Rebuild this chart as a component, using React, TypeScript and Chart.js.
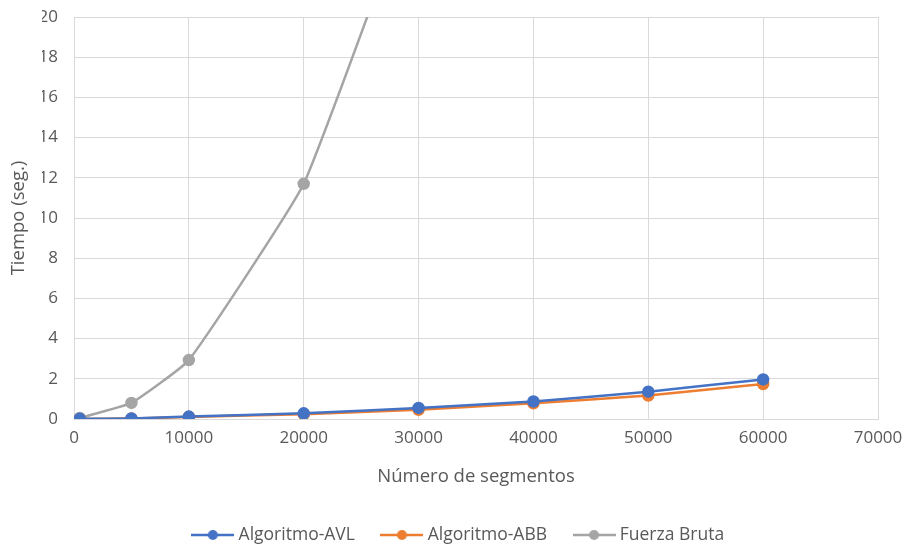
import React, { useEffect, useRef } from "react";
import { Chart, registerables } from "chart.js";

Chart.register(...registerables);

const xValues = [500, 5000, 10000, 20000, 30000, 40000, 50000, 60000];
const avlValues = [0.01, 0.03, 0.12, 0.28, 0.55, 0.87, 1.36, 1.97];
const abbValues = [0.0, 0.02, 0.1, 0.24, 0.46, 0.78, 1.17, 1.74];
const bruteX = [500, 5000, 10000, 20000, 30000];
const bruteValues = [0.05, 0.8, 2.93, 11.7, 27];

const seriesNames = ["Algoritmo-AVL", "Algoritmo-ABB", "Fuerza Bruta"];
const seriesColors = ["#4472C4", "#ED7D31", "#A5A5A5"];

const xTitle = "Número de segmentos";
const yTitle = "Tiempo (seg.)";

function legendImage(color: string) {
  const c = document.createElement("canvas");
  c.width = 43;
  c.height = 12;
  const ctx = c.getContext("2d")!;
  ctx.strokeStyle = color;
  ctx.lineWidth = 2.5;
  ctx.beginPath();
  ctx.moveTo(0, 6);
  ctx.lineTo(43, 6);
  ctx.stroke();
  ctx.fillStyle = color;
  ctx.beginPath();
  ctx.arc(21.5, 6, 5, 0, Math.PI * 2);
  ctx.fill();
  return c;
}

export default function App() {
  const ref = useRef<HTMLCanvasElement>(null);
  useEffect(() => {
    const font = "'Open Sans', 'Noto Sans', sans-serif";
    const images = seriesColors.map(legendImage);
    const makeData = (xs: number[], ys: number[]) => xs.map((x, i) => ({ x, y: ys[i] }));
    const chart = new Chart(ref.current!, {
      type: "line",
      data: {
        datasets: [
          { label: seriesNames[0], data: makeData(xValues, avlValues) },
          { label: seriesNames[1], data: makeData(xValues, abbValues) },
          { label: seriesNames[2], data: makeData(bruteX, bruteValues) },
        ].map((d, i) => ({
          ...d,
          borderColor: seriesColors[i],
          backgroundColor: seriesColors[i],
          borderWidth: 2.5,
          pointRadius: 5,
          pointHoverRadius: 5,
          tension: 0.12,
          fill: false,
        })),
      },
      options: {
        animation: false,
        responsive: false,
        maintainAspectRatio: false,
        layout: { padding: { left: 42, right: 30, top: 17, bottom: -9.75 } },
        scales: {
          x: {
            type: "linear",
            min: 0,
            max: 70000,
            afterFit: (s: any) => {
              s.height = 77.25;
            },
            ticks: {
              stepSize: 10000,
              color: "#595959",
              font: { family: font, size: 17 },
              padding: 5,
              maxRotation: 0,
              callback: (v: any) => String(v),
            },
            grid: { color: "#d9d9d9", lineWidth: 1, drawTicks: true, tickLength: 4, tickColor: "rgba(0,0,0,0)" },
            border: { color: "#d9d9d9" },
            title: {
              display: true,
              text: xTitle,
              color: "#595959",
              font: { family: font, size: 18.5 },
              padding: { top: 0, bottom: 8 },
            },
          },
          y: {
            min: 0,
            max: 20,
            afterFit: (s: any) => {
              s.width = 32;
            },
            ticks: {
              stepSize: 2,
              color: "#595959",
              font: { family: font, size: 17 },
              padding: 5,
            },
            grid: { color: "#d9d9d9", lineWidth: 1, drawTicks: true, tickLength: 11, tickColor: "rgba(0,0,0,0)" },
            border: { color: "#d9d9d9" },
            title: {
              display: true,
              text: yTitle,
              color: "#595959",
              font: { family: font, size: 18.5 },
              padding: { top: -34, bottom: 0 },
            },
          },
        },
        plugins: {
          tooltip: { enabled: false },
          legend: {
            position: "bottom",
            labels: {
              usePointStyle: true,
              pointStyleWidth: 34,
              boxHeight: 12,
              padding: 30,
              color: "#595959",
              font: { family: font, size: 17.5 },
              generateLabels: (ch: any) =>
                ch.data.datasets.map((d: any, i: number) => ({
                  text: d.label,
                  fillStyle: seriesColors[i],
                  strokeStyle: seriesColors[i],
                  lineWidth: 0,
                  pointStyle: images[i],
                  hidden: false,
                  datasetIndex: i,
                  fontColor: "#595959",
                })),
            },
          },
        },
      },
    });
    return () => chart.destroy();
  }, []);
  return (
    <div style={{ position: "fixed", left: 0, top: 0, width: 908, height: 544, background: "#fff" }}>
      <canvas ref={ref} width={908} height={544} style={{ width: 908, height: 544 }} />
    </div>
  );
}
